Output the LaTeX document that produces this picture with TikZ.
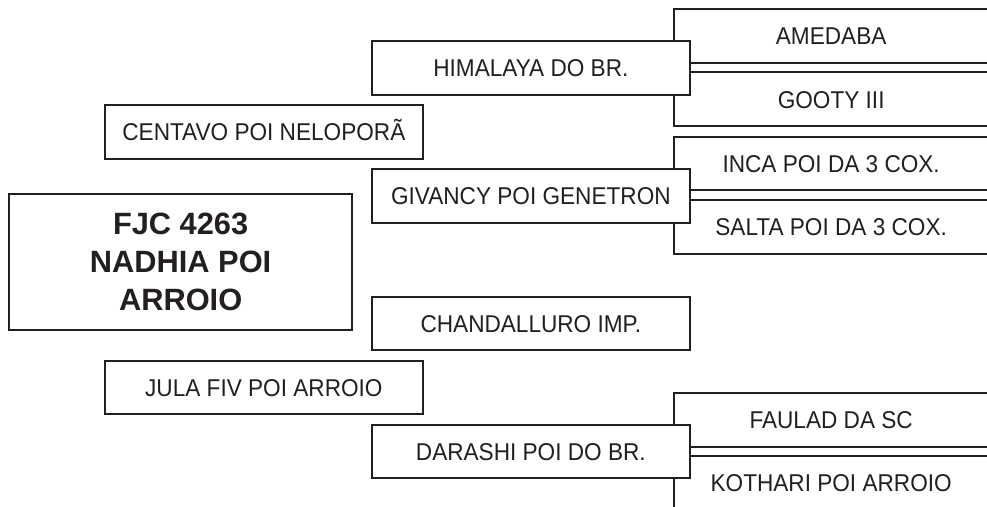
\documentclass[tikz,border=0pt]{standalone}
\usepackage{fontspec}
\setmainfont{Liberation Sans}
\newfontfamily\narrowsans[FakeStretch=0.93]{Liberation Sans}
\definecolor{ink}{HTML}{231F20}
\begin{document}
\begin{tikzpicture}[x=1pt,y=-1pt,
  every node/.style={inner sep=0pt, outer sep=0pt, text=ink},
  label text/.style={font=\narrowsans\fontsize{24.3}{29}\selectfont, text height=17.4pt, text depth=0pt},
  genbox/.style={label text, draw=ink, line width=2pt, fill=white, minimum width=317.7pt, minimum height=53.5pt},
  openbox/.style={label text, minimum width=313.7pt, minimum height=53.7pt},
  edge line/.style={draw=ink, line width=2pt},
  mainbox/.style={draw=ink, line width=2pt, fill=white, minimum width=342.7pt, minimum height=135.4pt,
    align=center, font=\fontsize{30.8}{38}\selectfont\bfseries}
]
\useasboundingbox (0,0) rectangle (987,506);
\clip (0,0) rectangle (987,506);
\fill[white] (0,0) rectangle (987,506);

% fourth generation (open on the right, run off the page)
\node[openbox] (r1) at (831.15,35.9) {AMEDABA};
\node[openbox] (r2) at (831.15,99.3) {GOOTY III};
\node[openbox] (r3) at (831.15,163.4) {INCA POI DA 3 COX.};
\node[openbox] (r4) at (831.15,226.7) {SALTA POI DA 3 COX.};
\node[openbox] (r5) at (831.15,419.7) {FAULAD DA SC};
\node[openbox] (r6) at (831.15,482.9) {KOTHARI POI ARROIO};
\foreach \n in {r1,r2,r3,r4,r5,r6}{
  \draw[edge line] ([xshift=4pt]\n.north east) -- (\n.north west) -- (\n.south west) -- ([xshift=4pt]\n.south east);
}

% third generation
\node[genbox] (g1) at (530.85,68) {HIMALAYA DO BR.};
\node[genbox] (g2) at (530.85,196) {GIVANCY POI GENETRON};
\node[genbox] (g3) at (530.85,323.6) {CHANDALLURO IMP.};
\node[genbox] (g4) at (530.85,451.7) {DARASHI POI DO BR.};

% second generation
\node[genbox] (p1) at (263.85,131.8) {CENTAVO POI NELOPORÃ};
\node[genbox] (p2) at (263.85,387.7) {JULA FIV POI ARROIO};

% subject
\node[mainbox] (main) at (180.65,262) {FJC 4263\\NADHIA POI\\ARROIO};
\end{tikzpicture}
\end{document}
